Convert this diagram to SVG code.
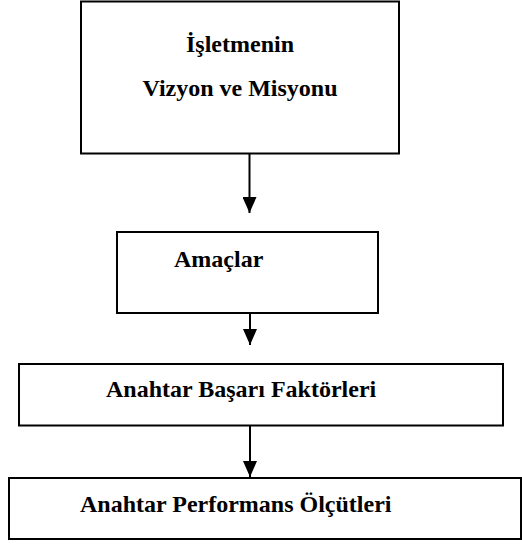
<svg xmlns="http://www.w3.org/2000/svg" width="522" height="545" viewBox="0 0 522 545">
<style>
.box{fill:#fff;stroke:#000;stroke-width:2}
.lbl{font-family:"Liberation Serif","Times New Roman",serif;font-weight:bold;font-size:24px;fill:#000}
.conn{stroke:#000;stroke-width:2;fill:none}
</style>
<defs>
<marker id="ah" markerUnits="userSpaceOnUse" markerWidth="16" markerHeight="14" refX="16" refY="7" orient="auto">
<polygon points="0,0 16,7 0,14" fill="#000"/>
</marker>
</defs>
<rect width="522" height="545" fill="#fff"/>
<g id="node-vizyon">
<rect class="box" x="81" y="1.5" width="318" height="152"/>
<text class="lbl" x="240" y="52" text-anchor="middle">İşletmenin</text>
<text class="lbl" x="240" y="96" text-anchor="middle">Vizyon ve Misyonu</text>
</g>
<g id="node-amaclar">
<rect class="box" x="117" y="232" width="261" height="81"/>
<text class="lbl" x="174" y="267">Amaçlar</text>
</g>
<g id="node-basari">
<rect class="box" x="19" y="364" width="484" height="61.5"/>
<text class="lbl" x="106" y="397">Anahtar Başarı Faktörleri</text>
</g>
<g id="node-performans">
<rect class="box" x="9" y="478" width="512" height="61"/>
<text class="lbl" x="80" y="512">Anahtar Performans Ölçütleri</text>
</g>
<g id="connectors">
<line class="conn" x1="249.5" y1="154" x2="249.5" y2="213" marker-end="url(#ah)"/>
<line class="conn" x1="250" y1="314" x2="250" y2="345" marker-end="url(#ah)"/>
<line class="conn" x1="250" y1="426" x2="250" y2="477" marker-end="url(#ah)"/>
</g>
</svg>
